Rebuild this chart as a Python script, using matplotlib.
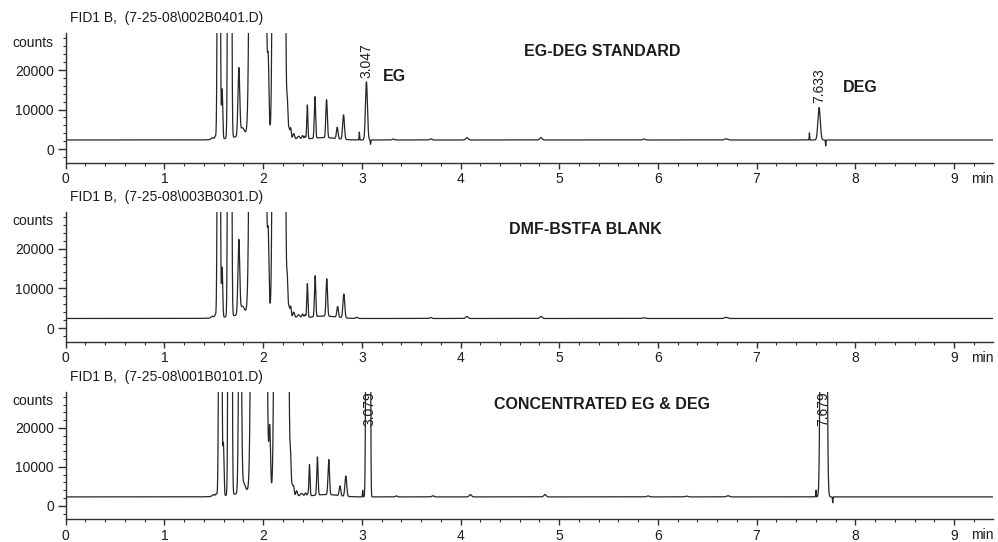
import numpy as np
import matplotlib
matplotlib.use("Agg")
import matplotlib.pyplot as plt
from matplotlib.ticker import MultipleLocator, FixedLocator

plt.rcParams['font.family'] = ['Liberation Sans', 'DejaVu Sans']

# ---- data -------------------------------------------------------------
t_end = 9.395                      # end of the time window (min)

file_names = [r"FID1 B,  (7-25-08\002B0401.D)",
              r"FID1 B,  (7-25-08\003B0301.D)",
              r"FID1 B,  (7-25-08\001B0101.D)"]
sample_names = ["EG-DEG STANDARD", "DMF-BSTFA BLANK", "CONCENTRATED EG & DEG"]

x_ticks = [0, 1, 2, 3, 4, 5, 6, 7, 8, 9]
y_ticks = [0, 10000, 20000]

# Detector baseline of each run (counts)
baselines = [2300, 2400, 2300]

# Peak tables: retention time (min), height above baseline (counts), sigma (min)
std_rt = [1.485, 1.515, 1.551, 1.585, 1.661, 1.754, 1.79, 1.95, 1.9445, 2.052, 2.1595,
          2.245, 2.262, 2.28, 2.31, 2.36, 2.40, 2.425, 2.62,
          2.448, 2.525, 2.643, 2.751, 2.815, 2.975, 3.047, 3.088,
          3.32, 3.70, 4.065, 4.815, 5.86, 6.69, 7.535, 7.633, 7.70]
std_height = [500, 700, 3e5, 12500, 1e6, 17000, 2000, 1500, 1e7, 17000, 1e7,
              8000, 2500, 2500, 1300, 700, 900, 700, 600,
              8600, 10500, 9600, 2900, 6200, 2000, 14700, -1100,
              250, 300, 600, 600, 250, 300, 1800, 8200, -1500]
std_sigma = [0.012, 0.007, 0.0087, 0.006, 0.0093, 0.009, 0.02, 0.2, 0.0269, 0.008, 0.021,
             0.006, 0.008, 0.006, 0.008, 0.012, 0.008, 0.006, 0.12,
             0.0055, 0.0065, 0.0075, 0.008, 0.009, 0.0025, 0.010, 0.0025,
             0.01, 0.01, 0.012, 0.012, 0.012, 0.015, 0.0025, 0.012, 0.0025]

blank_rt = [1.485, 1.515, 1.551, 1.585, 1.661, 1.754, 1.79, 1.95, 1.9445, 2.052, 2.1595,
            2.245, 2.262, 2.28, 2.31, 2.36, 2.40, 2.425, 2.62,
            2.448, 2.527, 2.645, 2.755, 2.818, 2.95,
            3.70, 4.065, 4.815, 5.86, 6.69]
blank_height = [500, 700, 3e5, 12500, 1e6, 18600, 2000, 1500, 1e7, 18000, 1e7,
                8000, 2500, 2500, 1300, 700, 900, 700, 600,
                8500, 10300, 9400, 2700, 6000, 300,
                250, 500, 500, 200, 300]
blank_sigma = [0.012, 0.007, 0.0087, 0.006, 0.0093, 0.009, 0.02, 0.2, 0.0269, 0.008, 0.021,
               0.006, 0.008, 0.006, 0.008, 0.012, 0.008, 0.006, 0.12,
               0.0055, 0.0065, 0.0075, 0.008, 0.009, 0.01,
               0.01, 0.012, 0.012, 0.012, 0.015]

conc_rt = [1.495, 1.525, 1.566, 1.598, 1.665, 1.766, 1.80, 1.96, 1.957, 2.067, 2.1845,
           2.278, 2.295, 2.31, 2.34, 2.39, 2.43, 2.455, 2.64,
           2.47, 2.55, 2.665, 2.779, 2.838, 3.009, 3.052, 3.079,
           3.35, 3.72, 4.10, 4.856, 5.90, 6.29, 6.71, 7.602, 7.679, 7.771]
conc_height = [500, 700, 3e5, 13000, 1e6, 1e5, 2500, 1500, 1e7, 16000, 1e7,
               8000, 2500, 2000, 1300, 700, 800, 600, 600,
               8000, 9800, 9000, 2500, 5200, 1700, 2e5, 2e5,
               250, 300, 600, 600, 250, 200, 300, 1700, 1e6, -1500]
conc_sigma = [0.012, 0.007, 0.0091, 0.006, 0.0093, 0.0105, 0.02, 0.2, 0.0259, 0.008, 0.0234,
              0.006, 0.008, 0.006, 0.008, 0.012, 0.008, 0.006, 0.12,
              0.0055, 0.0065, 0.0075, 0.008, 0.009, 0.0025, 0.0075, 0.006,
              0.01, 0.01, 0.012, 0.012, 0.012, 0.012, 0.015, 0.0025, 0.0149, 0.0025]

# Integrated peaks that carry a retention-time label
std_labels = [3.047, 7.633]
conc_labels = [3.079, 7.679]

# Compound names written next to the standard's peaks: (text, time, counts)
compound_text = ["EG", "DEG"]
compound_t = [3.215, 7.87]
compound_y = [18480, 15700]

# Sample-name positions (time, counts)
sample_t = [5.434, 5.27, 5.434]
sample_y = [24810, 24760, 26000]

# ---- drawing ----------------------------------------------------------
W, H = 998, 542
fig = plt.figure(figsize=(W / 100, H / 100), dpi=100)
fig.patch.set_facecolor("white")

ink = "#1c1c1c"
t = np.linspace(0, t_end, 40000)


def trace(base, rts, heights, sigmas):
    y = np.full_like(t, float(base))
    for rt, h, s in zip(rts, heights, sigmas):
        y += h * np.exp(-0.5 * ((t - rt) / s) ** 2)
    return y


runs = [(std_rt, std_height, std_sigma),
        (blank_rt, blank_height, blank_sigma),
        (conc_rt, conc_height, conc_sigma)]

# pixel extents (top, bottom) of the three plotting boxes
boxes = [(33.3, 162.7), (211.7, 341.7), (391.7, 519.3)]
ylim = (-3450, 29300)

for i, ((top, bottom), run) in enumerate(zip(boxes, runs)):
    ax = fig.add_axes([65.7 / W, 1 - bottom / H, (993 - 65.7) / W, (bottom - top) / H])
    y = trace(baselines[i], *run)
    ax.plot(t, y, color="#262626", lw=0.9)
    ax.set_xlim(0, t_end)
    ax.set_ylim(*ylim)

    for side in ("top", "right"):
        ax.spines[side].set_visible(False)
    for side in ("left", "bottom"):
        ax.spines[side].set_color("#303030")
        ax.spines[side].set_linewidth(1.0)

    ax.xaxis.set_major_locator(FixedLocator(x_ticks))
    ax.xaxis.set_minor_locator(MultipleLocator(0.2))
    ax.yaxis.set_major_locator(FixedLocator(y_ticks))
    ax.yaxis.set_minor_locator(MultipleLocator(2000))
    ax.tick_params(axis="x", which="major", direction="out", length=4.5, width=1.0,
                   color="#303030", labelsize=10, labelcolor=ink, pad=2.3)
    ax.tick_params(axis="x", which="minor", direction="out", length=2.3, width=0.8,
                   color="#303030")
    ax.tick_params(axis="y", which="major", direction="out", length=6, width=1.0,
                   color="#303030", labelsize=10, labelcolor=ink, pad=2.5)
    ax.tick_params(axis="y", which="minor", direction="out", length=2.3, width=0.8,
                   color="#303030")
    ax.set_yticklabels([str(v) for v in y_ticks])

    # run header, axis captions
    fig.text(70 / W, 1 - (top - 15.0) / H, file_names[i], ha="left", va="center",
             fontsize=10, color=ink)
    fig.text(53 / W, 1 - (top + 9.3) / H, "counts", ha="right", va="center",
             fontsize=10, color=ink)
    fig.text(982 / W, 1 - (bottom + 16.0) / H, "min", ha="center", va="center",
             fontsize=10, color=ink)

    ax.text(sample_t[i], sample_y[i], sample_names[i], ha="center", va="center",
            fontsize=11.5, fontweight="bold", color=ink)

    if i == 0:
        for rt in std_labels:
            near = np.abs(t - rt) < 0.02
            apex = y[near].max()
            ax.annotate(f"{rt:.3f}", xy=(rt, apex), xytext=(0, 3),
                        textcoords="offset points", rotation=90,
                        ha="center", va="bottom", fontsize=10, color=ink)
        for name, ct, cy in zip(compound_text, compound_t, compound_y):
            ax.text(ct, cy, name, ha="left", va="center", fontsize=11.5,
                    fontweight="bold", color=ink)
    if i == 2:
        for rt in conc_labels:
            ax.annotate(f"{rt:.3f}", xy=(rt, ylim[1]), xytext=(0, 0),
                        textcoords="offset points", rotation=90,
                        ha="center", va="top", fontsize=10, color=ink)

fig.savefig("out.png", dpi=100, facecolor="white")
